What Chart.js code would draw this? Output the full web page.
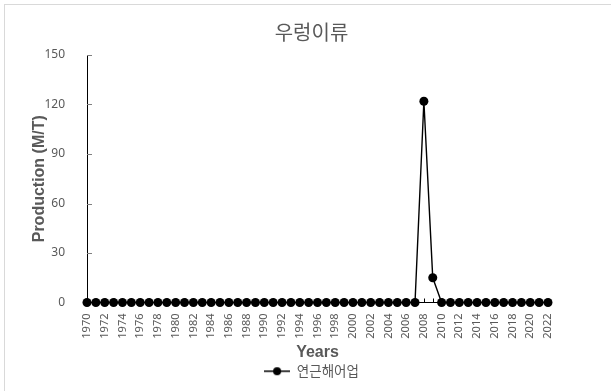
<!DOCTYPE html>
<html>
<head>
<meta charset="utf-8">
<script src="https://cdn.jsdelivr.net/npm/chart.js@4.4.1/dist/chart.umd.min.js"></script>
<style>
  html, body { margin: 0; padding: 0; background: #ffffff; overflow: hidden; }
  #wrap { position: relative; width: 611px; height: 391px; }
  #frame { position: absolute; left: 4px; top: 4px; width: 700px; height: 500px; border: 1px solid #d9d9d9; box-sizing: border-box; }
  #c { position: absolute; left: 0; top: 0; }
</style>
</head>
<body>
<div id="wrap">
  <div id="frame"></div>
  <canvas id="c" width="611" height="391"></canvas>
</div>
<script>
// Yearly production of 우렁이류 (연근해어업), M/T
const years = [
  '1970','1971','1972','1973','1974','1975','1976','1977','1978','1979',
  '1980','1981','1982','1983','1984','1985','1986','1987','1988','1989',
  '1990','1991','1992','1993','1994','1995','1996','1997','1998','1999',
  '2000','2001','2002','2003','2004','2005','2006','2007','2008','2009',
  '2010','2011','2012','2013','2014','2015','2016','2017','2018','2019',
  '2020','2021','2022'
];
const production = [
  0, 0, 0, 0, 0, 0, 0, 0, 0, 0,
  0, 0, 0, 0, 0, 0, 0, 0, 0, 0,
  0, 0, 0, 0, 0, 0, 0, 0, 0, 0,
  0, 0, 0, 0, 0, 0, 0, 0, 122, 15,
  0, 0, 0, 0, 0, 0, 0, 0, 0, 0,
  0, 0, 0
];
const yTicks = [0, 30, 60, 90, 120, 150];
const seriesName = '연근해어업';
const chartTitle = '우렁이류';

const GRAY = '#595959';

// legend symbol: short line with a filled dot in the middle
const legendIcon = document.createElement('canvas');
legendIcon.width = 26; legendIcon.height = 10;
(function () {
  const g = legendIcon.getContext('2d');
  g.strokeStyle = '#000'; g.lineWidth = 1.5;
  g.beginPath(); g.moveTo(0, 5); g.lineTo(26, 5); g.stroke();
  g.fillStyle = '#000';
  g.beginPath(); g.arc(13, 5, 4, 0, Math.PI * 2); g.fill();
})();

// short inward tick marks on both axes
const innerTicks = {
  id: 'innerTicks',
  afterDatasetsDraw(chart) {
    const { ctx, chartArea, scales } = chart;
    ctx.save();
    ctx.lineWidth = 1;
    ctx.strokeStyle = '#808080';
    scales.y.ticks.forEach(t => {
      if (t.value === 0) return;
      const py = Math.round(scales.y.getPixelForValue(t.value)) + 0.5;
      ctx.beginPath(); ctx.moveTo(chartArea.left, py); ctx.lineTo(chartArea.left + 5, py); ctx.stroke();
    });
    ctx.strokeStyle = '#000';
    years.forEach((y, i) => {
      const px = Math.round(scales.x.getPixelForValue(i)) + 0.5;
      ctx.beginPath(); ctx.moveTo(px, chartArea.bottom); ctx.lineTo(px, chartArea.bottom - 4); ctx.stroke();
    });
    ctx.restore();
  }
};

new Chart(document.getElementById('c'), {
  type: 'line',
  data: {
    labels: years,
    datasets: [{
      label: seriesName,
      data: production,
      yAxisID: 'y',
      borderColor: '#000000',
      backgroundColor: '#000000',
      borderWidth: 1.4,
      pointRadius: 4.5,
      pointBackgroundColor: '#000000',
      pointBorderColor: '#000000',
      pointBorderWidth: 0,
      tension: 0,
      clip: false
    }]
  },
  options: {
    responsive: false,
    animation: false,
    devicePixelRatio: 1,
    layout: { padding: { left: 12, right: 0, top: 0, bottom: 3 } },
    plugins: {
      title: {
        display: true,
        text: chartTitle,
        color: GRAY,
        font: { family: '"Noto Sans CJK KR", sans-serif', size: 20, weight: 'normal', lineHeight: 1.2 },
        padding: { top: 20, bottom: 11 }
      },
      legend: {
        display: true,
        position: 'bottom',
        labels: {
          color: GRAY,
          font: { family: '"Noto Sans CJK KR", sans-serif', size: 13.5 },
          usePointStyle: true,
          pointStyle: legendIcon,
          pointStyleWidth: 26,
          padding: 2,
          generateLabels: (chart) => [{
            text: seriesName,
            pointStyle: legendIcon,
            fontColor: GRAY,
            datasetIndex: 0,
            hidden: false,
            lineWidth: 0
          }]
        }
      },
      tooltip: { enabled: false }
    },
    scales: {
      x: {
        type: 'category',
        offset: false,
        grid: { display: false },
        border: { display: true, color: '#000000', width: 1 },
        ticks: {
          autoSkip: false,
          minRotation: 90,
          maxRotation: 90,
          padding: 3,
          color: GRAY,
          font: { family: '"Noto Sans", sans-serif', size: 11 },
          callback: function (v, i) { return i % 2 === 0 ? years[i] : ''; }
        },
        title: {
          display: true,
          text: 'Years',
          color: GRAY,
          font: { family: '"Liberation Sans", Arial, sans-serif', size: 16, weight: 'bold', lineHeight: 1.2 },
          padding: { top: 0, bottom: 0 }
        },
        afterFit: (s) => { s.height = 60; }
      },
      y: {
        position: 'left',
        min: 0,
        max: 150,
        grid: { display: false },
        border: { display: true, color: '#000000', width: 1 },
        afterBuildTicks: (s) => { s.ticks = yTicks.map(v => ({ value: v })); },
        ticks: {
          padding: 14,
          color: GRAY,
          font: { family: '"Noto Sans", sans-serif', size: 12 }
        },
        title: {
          display: true,
          text: 'Production (M/T)',
          color: GRAY,
          font: { family: '"Liberation Sans", Arial, sans-serif', size: 16, weight: 'bold', lineHeight: 1.2 },
          padding: { top: 18, bottom: 0 }
        },
        afterFit: (s) => { s.width = 75; }
      },
      // empty right-hand margin so the plot ends short of the frame edge
      yRight: {
        position: 'right',
        display: true,
        min: 0,
        max: 150,
        grid: { display: false },
        border: { display: false },
        ticks: { display: false },
        afterFit: (s) => { s.width = 63; }
      }
    }
  },
  plugins: [innerTicks]
});
</script>
</body>
</html>
